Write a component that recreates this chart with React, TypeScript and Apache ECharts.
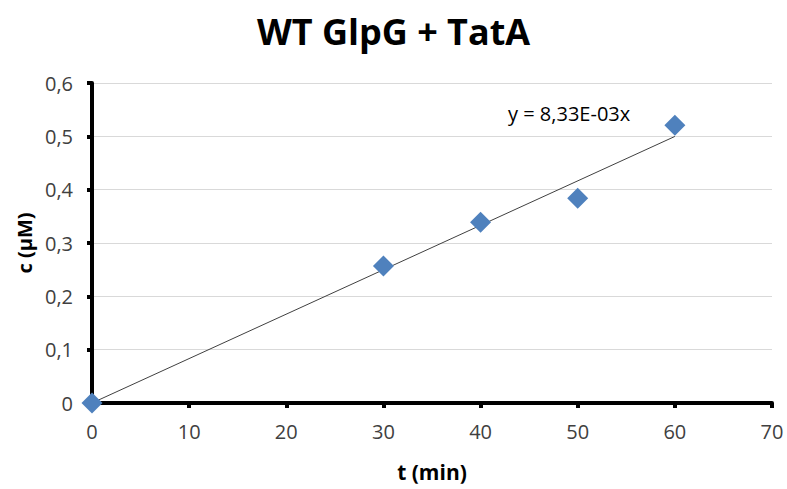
import React, { useEffect, useRef } from "react";
import * as echarts from "echarts";

const title = "WT GlpG + TatA";
const xName = "t (min)";
const yName = "c (µM)";
const timeMin = [0, 30, 40, 50, 60];
const concentration = [0, 0.257, 0.339, 0.384, 0.521];
const slope = 0.00833;
const trendX = [0, 60];
const equationLabel = "y = 8,33E-03x";

export default function App() {
  const ref = useRef<HTMLDivElement>(null);
  useEffect(() => {
    if (!ref.current) return;
    const chart = echarts.init(ref.current, null, { renderer: "svg" });
    const font = "'Open Sans', 'Noto Sans', sans-serif";
    chart.setOption({
      animation: false,
      backgroundColor: "#ffffff",
      title: {
        text: title,
        left: "center",
        top: 8,
        textStyle: { fontFamily: font, fontWeight: "bold", fontSize: 36, color: "#000000" },
      },
      grid: { left: 92, right: 15, top: 83, bottom: 86 },
      xAxis: {
        type: "value",
        min: 0,
        max: 70,
        interval: 10,
        name: xName,
        nameLocation: "middle",
        nameGap: 58,
        nameTextStyle: { fontFamily: font, fontWeight: "bold", fontSize: 21, color: "#000" },
        axisLine: { show: true, onZero: false, lineStyle: { color: "#000", width: 4 } },
        axisTick: { show: true, inside: false, length: 5, lineStyle: { color: "#000", width: 4 } },
        axisLabel: { fontFamily: font, fontSize: 20, color: "#404040", margin: 18 },
        splitLine: { show: false },
      },
      yAxis: {
        type: "value",
        min: 0,
        max: 0.6,
        interval: 0.1,
        name: yName,
        nameLocation: "middle",
        nameGap: 52,
        nameRotate: 90,
        nameTextStyle: { fontFamily: font, fontWeight: "bold", fontSize: 20, color: "#000" },
        axisLine: { show: true, lineStyle: { color: "#000", width: 4 } },
        axisTick: { show: true, inside: false, length: 5, lineStyle: { color: "#000", width: 4 } },
        axisLabel: {
          fontFamily: font,
          fontSize: 20,
          color: "#404040",
          margin: 19,
          formatter: (v: number) => (v === 0 ? "0" : v.toFixed(1).replace(".", ",")),
        },
        splitLine: { show: true, lineStyle: { color: "#D9D9D9", width: 1 } },
      },
      series: [
        {
          type: "line",
          data: trendX.map((x) => [x, +(slope * x).toFixed(4)]),
          showSymbol: false,
          symbol: "none",
          lineStyle: { color: "#404040", width: 1 },
          z: 3,
        },
        {
          type: "scatter",
          data: timeMin.map((t, i) => [t, concentration[i]]),
          symbol: "diamond",
          symbolSize: 21,
          itemStyle: { color: "#4F81BD", opacity: 1 },
          z: 4,
        },
      ],
      graphic: [
        {
          type: "text",
          left: 508,
          top: 103,
          style: { text: equationLabel, fontFamily: font, fontSize: 20, fill: "#000" },
        },
      ],
    });
    return () => chart.dispose();
  }, []);
  return <div ref={ref} style={{ width: 787, height: 489, position: "absolute", left: 0, top: 0 }} />;
}
